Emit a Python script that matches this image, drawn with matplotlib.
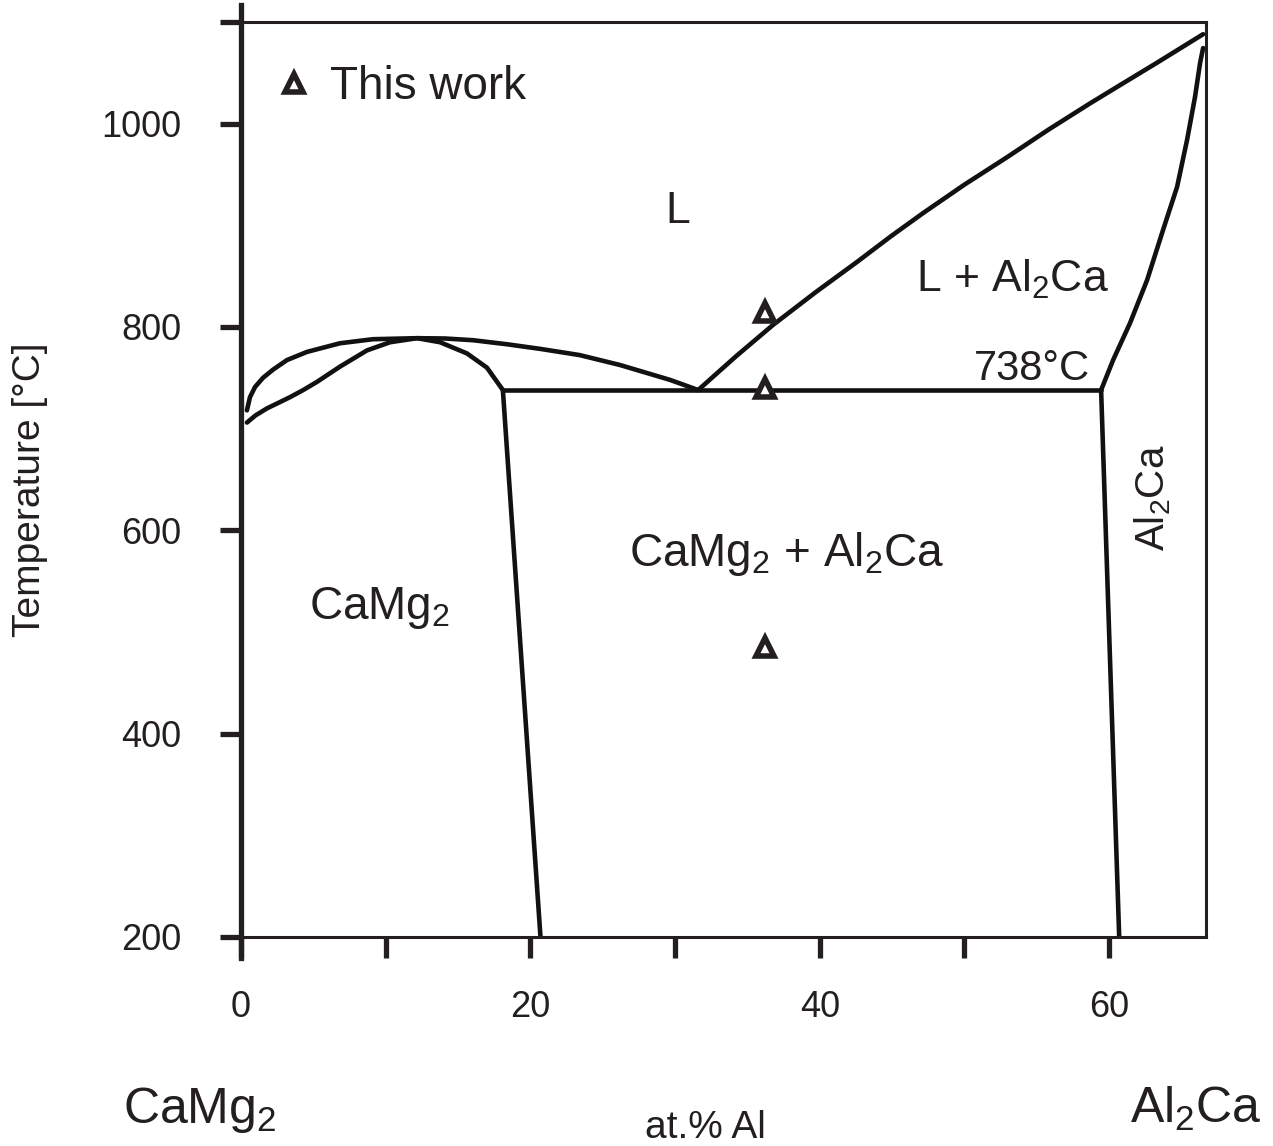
import matplotlib
matplotlib.use("Agg")
import matplotlib.pyplot as plt
from matplotlib.lines import Line2D

plt.rcParams['font.family'] = ['Liberation Sans', 'DejaVu Sans']
plt.rcParams['mathtext.default'] = 'regular'

INK = '#231f20'

# ---- data (at.% Al, temperature in °C) ----
liq_left_x = [0.41, 0.62, 0.97, 1.52, 2.21, 3.18, 4.56, 6.84, 9.12, 12.17, 14.1, 16.04,
              18.4, 20.67, 23.4, 26.2, 29.65, 31.6]
liq_left_T = [718, 731, 741, 750, 758, 767.5, 775.5, 784, 788, 789, 788.7, 787,
              783, 778.5, 772.4, 762.6, 748, 738]

sol_left_x = [0.41, 1.0, 1.80, 2.6, 3.39, 4.3, 5.25, 6.84, 8.71, 10.3, 12.17, 13.76,
              15.62, 17.0, 18.1]
sol_left_T = [706, 713, 720, 725.5, 731, 738, 746, 761, 777, 785, 789, 785,
              774, 760, 738]

liq_right_x = [31.6, 34.2, 36.77, 39.7, 42.58, 44.9, 47.14, 50.0, 52.95, 55.8, 58.69, 61.0, 63.32, 66.5]
liq_right_T = [738, 771, 802, 834, 864, 889, 912, 940, 967, 994, 1020, 1040, 1060, 1088]

liq_al2ca_x = [59.45, 60.28, 61.45, 62.63, 63.73, 64.70, 65.39, 65.94, 66.29, 66.5]
liq_al2ca_T = [738, 767.5, 803.9, 846.2, 895.4, 937.7, 983.9, 1026.2, 1059.6, 1074.4]

eutectic_x = [18.1, 59.45]
eutectic_T = [738, 738]

camg2_solvus_x = [18.1, 20.7]
camg2_solvus_T = [738, 200]

al2ca_solvus_x = [59.45, 60.7]
al2ca_solvus_T = [738, 200]

this_work_x = [36.2, 36.2, 36.2]
this_work_T = [815, 740, 485]

xticks = [0, 10, 20, 30, 40, 50, 60]
xtick_labels = ['0', '', '20', '', '40', '', '60']
yticks = [200, 400, 600, 800, 1000, 1100]
ytick_labels = ['200', '400', '600', '800', '1000', '']

fig = plt.figure(figsize=(12.73, 11.46), dpi=100)
ax = fig.add_axes([241/1273, 1-937/1146, (1206-241)/1273, (937-22)/1146])
ax.set_xlim(0, 66.7)
ax.set_ylim(200, 1100)

lw = 3.3
for xs, ts in [(liq_left_x, liq_left_T), (sol_left_x, sol_left_T),
               (liq_right_x, liq_right_T), (liq_al2ca_x, liq_al2ca_T),
               (eutectic_x, eutectic_T), (camg2_solvus_x, camg2_solvus_T),
               (al2ca_solvus_x, al2ca_solvus_T)]:
    ax.plot(xs, ts, color='#111111', lw=lw, solid_capstyle='round', solid_joinstyle='round')

mk = dict(linestyle='none', marker='^', ms=13, mfc='white', mec=INK, mew=4.0)
ax.plot(this_work_x, this_work_T, zorder=5, **mk)

# legend
ax.plot([3.66], [1040], clip_on=False, **mk)
ax.text(6.15, 1024, 'This work', fontsize=33, color=INK, ha='left', va='baseline')

# region labels
ax.text(30.2, 902, 'L', fontsize=32, color=INK, ha='center', va='baseline')
ax.text(53.3, 835, 'L + Al$_2$Ca', fontsize=32, color=INK, ha='center', va='baseline')
ax.text(58.7, 748, '738°C', fontsize=30, color=INK, ha='right', va='baseline')
ax.text(37.7, 565, 'CaMg$_2$ + Al$_2$Ca', fontsize=33, color=INK, ha='center', va='baseline')
ax.text(9.6, 513, 'CaMg$_2$', fontsize=33, color=INK, ha='center', va='baseline')
ax.text(63.0, 632, 'Al$_2$Ca', fontsize=29, color=INK, ha='center', va='center', rotation=90)

# spines
for s in ['top', 'right', 'bottom']:
    ax.spines[s].set_linewidth(2.2)
    ax.spines[s].set_color(INK)
ax.spines['left'].set_visible(False)
ax.add_line(Line2D([0, 0], [-0.023, 1.019], transform=ax.transAxes, color=INK,
                   lw=3.8, clip_on=False, zorder=6))

ax.set_xticks(xticks)
ax.set_xticklabels(xtick_labels)
ax.set_yticks(yticks)
ax.set_yticklabels(ytick_labels)
ax.tick_params(axis='x', direction='out', length=15, width=3.8, color=INK,
               labelsize=26, labelcolor=INK, pad=23)
ax.tick_params(axis='y', direction='out', length=15, width=3.8, color=INK,
               labelsize=26, labelcolor=INK, pad=28)

ax.set_ylabel('Temperature [°C]', fontsize=28, color=INK)
ax.yaxis.set_label_coords(-0.200, 0.489)

fig.text(123/1273, 1-1123/1146, 'CaMg$_2$', fontsize=36, color=INK, ha='left', va='baseline')
fig.text(1262/1273, 1-1123/1146, 'Al$_2$Ca', fontsize=36, color=INK, ha='right', va='baseline')
fig.text(705/1273, 1-1138/1146, 'at.% Al', fontsize=28, color=INK, ha='center', va='baseline')

fig.savefig('out.png', dpi=100, facecolor='white')
